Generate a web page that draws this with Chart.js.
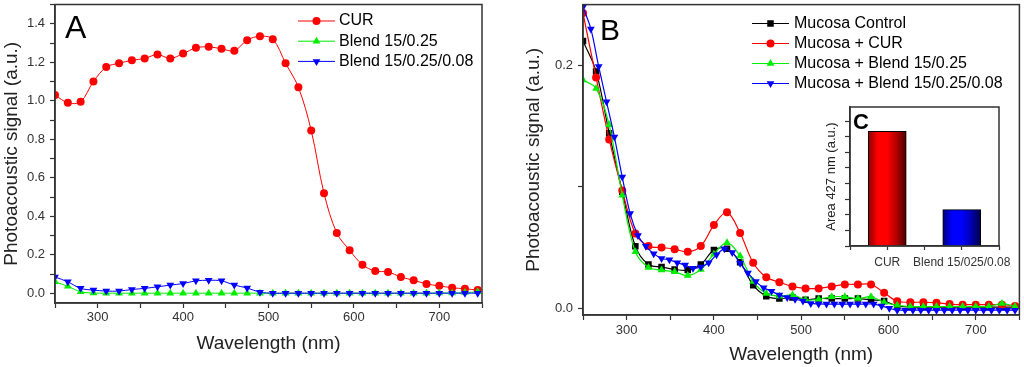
<!DOCTYPE html>
<html>
<head>
<meta charset="utf-8">
<script src="https://cdn.jsdelivr.net/npm/chart.js@4/dist/chart.umd.min.js"></script>
<style>
  body { margin: 0; background: #fff; }
  #wrap { position: relative; width: 1024px; height: 367px; overflow: hidden; }
  canvas { position: absolute; }
  #chartA { left: 0; top: 0; }
  #chartB { left: 510px; top: 0; }
  #chartC { left: 805px; top: 100px; }
</style>
</head>
<body>
<div id="wrap">
  <canvas id="chartA" width="500" height="367"></canvas>
  <canvas id="chartB" width="514" height="367"></canvas>
  <canvas id="chartC" width="215" height="178"></canvas>
</div>
<script>
// Panel A - films
const wavelengthA = [250, 265, 280, 295, 310, 325, 340, 355, 370, 385, 400, 415, 430, 445, 460, 475, 490,
    505, 520, 535, 550, 565, 580, 595, 610, 625, 640, 655, 670, 685, 700, 715, 730, 745];
const curA = [1.03, 0.99, 0.995, 1.10, 1.175, 1.195, 1.21, 1.22, 1.24, 1.22, 1.245, 1.275, 1.28, 1.27, 1.26, 1.315, 1.335,
    1.32, 1.195, 1.07, 0.846, 0.52, 0.313, 0.224, 0.149, 0.116, 0.111, 0.085, 0.068, 0.049, 0.039, 0.029, 0.024, 0.017];
const blendA = [0.06, 0.037, 0.008, 0.002, 0.001, 0.001, 0.001, 0.001, 0.001, 0.001, 0.001, 0.001, 0.001, 0.001, 0.001, 0.001, 0.001,
    0.001, 0.001, 0.001, 0.001, 0.001, 0.001, 0.001, 0.001, 0.001, 0.001, 0.001, 0.001, 0.001, 0.002, 0.002, 0.004, 0.008];
const blendCoatA = [0.085, 0.06, 0.026, 0.017, 0.012, 0.012, 0.02, 0.026, 0.034, 0.043, 0.051, 0.065, 0.068, 0.065, 0.043, 0.028, 0.006,
    0.001, 0.001, 0.001, 0.001, 0.001, 0.001, 0.001, 0.001, 0.001, 0.001, 0.001, 0.001, 0.001, 0.001, 0.001, 0.001, 0.001];

// Panel B - mucosa
const wavelengthB = [250, 265, 280, 295, 310, 325, 340, 355, 370, 385, 400, 415, 430, 445, 460, 475, 490,
    505, 520, 535, 550, 565, 580, 595, 610, 625, 640, 655, 670, 685, 700, 715, 730, 745];
const mucosaControl = [0.22, 0.195, 0.144, 0.096, 0.051, 0.036, 0.034, 0.032, 0.0315, 0.036, 0.048, 0.049, 0.038, 0.019, 0.010, 0.008, 0.009,
    0.007, 0.008, 0.008, 0.008, 0.008, 0.007, 0.006, 0.002, 0.001, 0.001, 0.001, 0.001, 0.001, 0.001, 0.001, 0.001, 0.001];
const mucosaCur = [0.243, 0.19, 0.139, 0.097, 0.0615, 0.0512, 0.050, 0.0487, 0.0465, 0.0512, 0.0685, 0.079, 0.062, 0.0375, 0.0255, 0.0215, 0.018,
    0.0164, 0.0164, 0.018, 0.0197, 0.0197, 0.0197, 0.0128, 0.0058, 0.005, 0.005, 0.0045, 0.0035, 0.003, 0.003, 0.003, 0.003, 0.002];
const mucosaBlend = [0.188, 0.181, 0.151, 0.093, 0.0465, 0.0337, 0.0315, 0.030, 0.027, 0.032, 0.0446, 0.054, 0.043, 0.022, 0.0123, 0.010, 0.011,
    0.007, 0.0075, 0.0095, 0.0095, 0.008, 0.0095, 0.005, 0.0025, 0.0015, 0.0015, 0.0015, 0.0015, 0.0015, 0.0015, 0.0015, 0.004, 0.0015];
const wavelengthCoat = [250, 259, 268, 277, 286, 295, 304, 313, 322, 331, 340, 349, 358, 367, 376, 385, 394, 403, 412, 421,
    430, 439, 448, 457, 466, 475, 484, 493, 502, 511, 520, 529, 538, 547, 556, 565, 574, 583, 592, 601,
    610, 619, 628, 637, 646, 655, 664, 673, 682, 691, 700, 709, 718, 727, 736, 745];
const mucosaBlendCoat = [0.248, 0.23, 0.199, 0.17, 0.141, 0.108, 0.078, 0.06, 0.051, 0.045, 0.041, 0.04, 0.0375, 0.0356, 0.033, 0.034, 0.0375, 0.044, 0.049, 0.046,
    0.037, 0.029, 0.022, 0.017, 0.014, 0.011, 0.009, 0.0074, 0.006, 0.004, 0.0036, 0.0035, 0.0035, 0.0035, 0.0035, 0.0035, 0.0035, 0.0035, 0.002, 0.0,
    -0.0015, -0.0015, -0.0015, -0.0015, -0.0015, -0.0015, -0.0015, -0.0015, -0.0015, -0.0015, -0.0015, -0.0015, -0.0015, -0.0015, -0.0015, -0.0015];

// Panel C - inset
const insetLabels = ['CUR', 'Blend 15/025/0.08'];
const insetValues = [7.35, 2.33];

const FONT = "'Liberation Sans', Arial, sans-serif";
const AXIS = '#333333';
const barShades = [
    ['#8a0000', '#ff0000', '#ff0000', '#b00000', '#4a0000'],
    ['#00007a', '#0000ff', '#0000ff', '#0000b0', '#000048']
];

function toPoints(xs, ys) {
    return xs.map((x, i) => ({ x: x, y: ys[i] }));
}

function drawMarker(ctx, style, x, y, r, rot) {
    ctx.beginPath();
    if (style === 'circle') {
        ctx.arc(x, y, r, 0, Math.PI * 2);
    } else if (style === 'rect') {
        const s = r / Math.SQRT2;
        ctx.rect(x - s, y - s, 2 * s, 2 * s);
    } else {
        const dir = rot === 180 ? -1 : 1;
        ctx.moveTo(x, y - dir * r);
        ctx.lineTo(x + r * 0.866, y + dir * r * 0.5);
        ctx.lineTo(x - r * 0.866, y + dir * r * 0.5);
        ctx.closePath();
    }
    ctx.fill();
}

// legend drawn inside the plot, Origin style (line + marker + text)
const insideLegend = {
    id: 'insideLegend',
    afterDraw(chart, args, opts) {
        if (!opts || opts.x === undefined) return;
        const ctx = chart.ctx;
        ctx.save();
        ctx.font = '16px ' + FONT;
        ctx.textBaseline = 'middle';
        chart.data.datasets.forEach((ds, i) => {
            const y = opts.y + i * opts.rowGap;
            ctx.strokeStyle = ds.borderColor;
            ctx.lineWidth = ds.borderWidth;
            ctx.beginPath();
            ctx.moveTo(opts.x, y);
            ctx.lineTo(opts.x + opts.lineLen, y);
            ctx.stroke();
            ctx.fillStyle = ds.pointBackgroundColor;
            drawMarker(ctx, ds.pointStyle, opts.x + opts.lineLen / 2, y, ds.pointRadius, ds.pointRotation);
            ctx.fillStyle = '#000';
            ctx.fillText(ds.label, opts.x + opts.lineLen + opts.gap, y);
        });
        ctx.restore();
    }
};

// box around the plot + panel letter
const frame = {
    id: 'frame',
    beforeDraw(chart, args, opts) {
        if (!opts.fill) return;
        const { ctx, chartArea: a } = chart;
        ctx.save();
        ctx.fillStyle = '#ffffff';
        ctx.fillRect(a.left, a.top, a.right - a.left, a.bottom - a.top);
        ctx.restore();
    },
    afterDraw(chart, args, opts) {
        const { ctx, chartArea: a } = chart;
        ctx.save();
        ctx.strokeStyle = AXIS;
        ctx.lineWidth = 1.5;
        ctx.strokeRect(a.left, a.top, a.right - a.left, a.bottom - a.top);
        if (opts.letter) {
            ctx.fillStyle = '#000';
            ctx.font = opts.font;
            ctx.textBaseline = 'alphabetic';
            ctx.fillText(opts.letter, opts.lx, opts.ly);
        }
        ctx.restore();
    }
};

function makeScale(o) {
    return {
        type: 'linear',
        position: o.position,
        min: o.min,
        max: o.max,
        offset: false,
        border: { display: true, color: AXIS, width: 1.5 },
        grid: { offset: false, drawOnChartArea: false, drawTicks: true, tickLength: o.tickLength || 5, tickColor: AXIS, tickWidth: 1.2 },
        ticks: {
            stepSize: o.step,
            includeBounds: false,
            autoSkip: false,
            maxRotation: 0,
            padding: o.tickPad,
            color: '#333',
            font: { family: FONT, size: o.tickSize || 13 },
            callback: o.label
        },
        title: {
            display: !!o.title,
            text: o.title,
            color: '#222',
            font: { family: FONT, size: o.titleSize || 19 },
            padding: o.titlePad
        },
        afterFit(scale) {
            if (o.position === 'left') scale.width = o.size;
            else scale.height = o.size;
            scale.paddingLeft = 0;
            scale.paddingRight = 0;
            scale.paddingTop = 0;
            scale.paddingBottom = 0;
        }
    };
}

const nmLabel = v => (v % 100 === 0 ? String(v) : '');
const signalLabel = v => (Math.abs(v / 0.2 - Math.round(v / 0.2)) < 1e-6 ? v.toFixed(1) : '');

function series(label, xs, ys, color, style, radius, rotation, order, width) {
    return {
        label: label,
        data: toPoints(xs, ys),
        borderColor: color,
        backgroundColor: color,
        pointBackgroundColor: color,
        pointBorderColor: color,
        pointBorderWidth: 0,
        pointStyle: style,
        pointRadius: radius,
        pointRotation: rotation,
        borderWidth: width,
        tension: 0.35,
        order: order
    };
}

const baseOptions = {
    responsive: false,
    animation: false,
    events: [],
    plugins: { legend: { display: false }, tooltip: { enabled: false } }
};

// A
new Chart(document.getElementById('chartA'), {
    type: 'line',
    data: {
        datasets: [
            series('CUR', wavelengthA, curA, '#ff0000', 'circle', 4, 0, 3, 1),
            series('Blend 15/0.25', wavelengthA, blendA, '#00ee00', 'triangle', 4.5, 0, 2, 1),
            series('Blend 15/0.25/0.08', wavelengthA, blendCoatA, '#0000ff', 'triangle', 4.5, 180, 1, 1)
        ]
    },
    options: {
        ...baseOptions,
        layout: { padding: { top: 2, right: 18, left: 0, bottom: 0 } },
        plugins: {
            ...baseOptions.plugins,
            insideLegend: { x: 298, y: 21, rowGap: 20.2, lineLen: 37, gap: 4 },
            frame: { letter: 'A', font: '32px ' + FONT, lx: 65, ly: 38 }
        },
        scales: {
            x: makeScale({ position: 'bottom', min: 250, max: 750, step: 50, label: nmLabel, size: 64,
                tickPad: 2, title: 'Wavelength (nm)', titlePad: { bottom: 12 } }),
            y: makeScale({ position: 'left', min: -0.05, max: 1.5, step: 0.1, label: signalLabel, size: 55,
                tickPad: 5, title: 'Photoacoustic signal (a.u.)', titlePad: { top: 0 } })
        }
    },
    plugins: [insideLegend, frame]
});

// B
new Chart(document.getElementById('chartB'), {
    type: 'line',
    data: {
        datasets: [
            series('Mucosa Control', wavelengthB, mucosaControl, '#000000', 'rect', 4.6, 0, 4, 1.2),
            series('Mucosa + CUR', wavelengthB, mucosaCur, '#ff0000', 'circle', 4, 0, 3, 1.2),
            series('Mucosa + Blend 15/0.25', wavelengthB, mucosaBlend, '#00ee00', 'triangle', 4.5, 0, 2, 1.2),
            series('Mucosa + Blend 15/0.25/0.08', wavelengthCoat, mucosaBlendCoat, '#0000ff', 'triangle', 4.5, 180, 1, 1.2)
        ]
    },
    options: {
        ...baseOptions,
        layout: { padding: { top: 4, right: 2, left: 0, bottom: 0 } },
        plugins: {
            ...baseOptions.plugins,
            insideLegend: { x: 242, y: 23.5, rowGap: 20, lineLen: 37, gap: 5 },
            frame: { letter: 'B', font: '30px ' + FONT, lx: 90, ly: 40 }
        },
        scales: {
            x: makeScale({ position: 'bottom', min: 250, max: 750, step: 50, label: nmLabel, size: 52,
                tickPad: 3, title: 'Wavelength (nm)', titlePad: { bottom: 1 } }),
            y: makeScale({ position: 'left', min: -0.0055, max: 0.25, step: 0.1, label: signalLabel, size: 73,
                tickPad: 5, title: 'Photoacoustic signal (a.u.)', titlePad: { top: 12 } })
        }
    },
    plugins: [insideLegend, frame]
});

// C - inset bars with a side-lit gradient
function barFill(context) {
    const stops = barShades[context.dataIndex] || barShades[0];
    const chart = context.chart;
    if (!chart.chartArea || !context.parsed) return stops[1];
    const cx = chart.scales.x.getPixelForValue(context.parsed.x);
    const g = chart.ctx.createLinearGradient(cx - 19, 0, cx + 19, 0);
    stops.forEach((c, i) => g.addColorStop(i / (stops.length - 1), c));
    return g;
}

const insetX = makeScale({ position: 'bottom', min: 0.5, max: 2.5, step: 0.5, size: 32, tickPad: 5, tickSize: 12, tickLength: 4,
    label: v => (Number.isInteger(v) ? insetLabels[v - 1] : ''), title: '' });
const insetY = makeScale({ position: 'left', min: 0, max: 8.9, step: 1, size: 45, tickPad: 0, label: () => '',
    title: 'Area 427 nm (a.u.)', titleSize: 13, titlePad: { top: 19 } });

new Chart(document.getElementById('chartC'), {
    type: 'bar',
    data: {
        datasets: [{
            data: insetValues.map((v, i) => ({ x: i + 1, y: v })),
            backgroundColor: barFill,
            borderColor: '#000',
            borderWidth: 1,
            barThickness: 38
        }]
    },
    options: {
        ...baseOptions,
        layout: { padding: { top: 7, right: 21, left: 0, bottom: 0 } },
        plugins: {
            ...baseOptions.plugins,
            frame: { fill: true, letter: 'C', font: 'bold 22px ' + FONT, lx: 48, ly: 29 }
        },
        scales: { x: insetX, y: insetY }
    },
    plugins: [frame]
});
</script>
</body>
</html>
